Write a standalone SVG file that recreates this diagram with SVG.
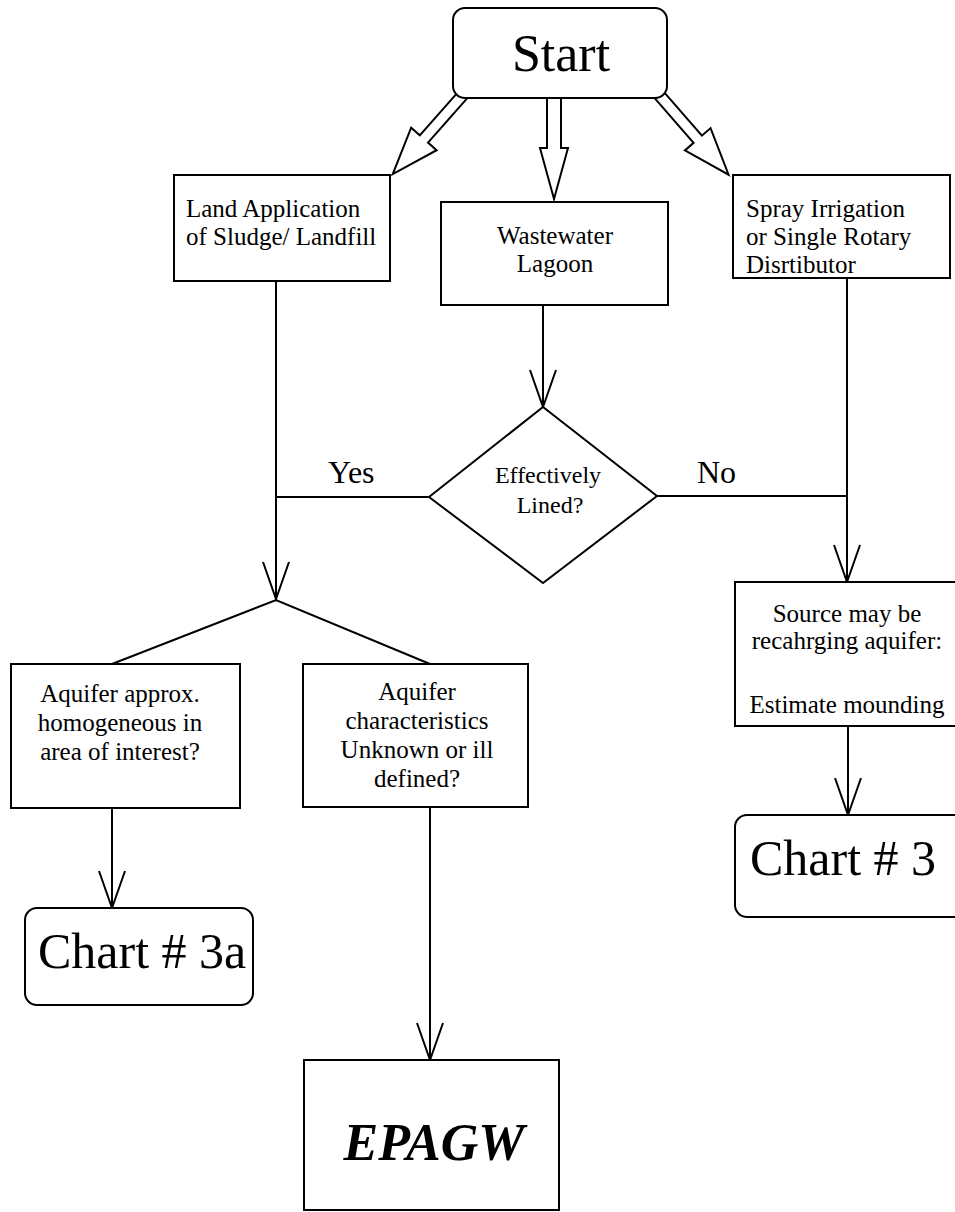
<svg xmlns="http://www.w3.org/2000/svg" width="955" height="1212" viewBox="0 0 955 1212">
  <style>
    .box { fill: #fff; stroke: #000; stroke-width: 2; }
    .conn { fill: none; stroke: #000; stroke-width: 2; }
    .hollow { fill: #fff; stroke: #000; stroke-width: 2; stroke-linejoin: miter; }
    .t { font-family: "Liberation Serif", "Times New Roman", serif; font-size: 25px; fill: #000; }
    .c { text-anchor: middle; }
    .big { font-size: 50px; }
    .lbl { font-size: 32px; }
    .dec { font-size: 24px; }
    .title { font-size: 52px; }
    .prog { font-size: 52px; font-weight: bold; font-style: italic; }
  </style>
  <defs>
    <!-- open V arrowhead used on all thin connectors -->
    <marker id="vee" markerUnits="userSpaceOnUse" viewBox="-40 -16 44 32" markerWidth="44" markerHeight="32" refX="0" refY="0" orient="auto" overflow="visible">
      <path d="M-37,-13 L0,0 L-37,13" fill="none" stroke="#000" stroke-width="2"/>
    </marker>
    <!-- hollow block arrow pointing down, origin at shaft top -->
    <polygon id="blockDiag" points="-5.5,-15 -5.5,56 -17,56 0,103 17,56 5.5,56 5.5,-15"/>
  </defs>

  <g id="connectors">
    <!-- block arrows out of Start -->
    <use href="#blockDiag" class="hollow" transform="translate(461,97) rotate(41.5)"/>
    <polygon class="hollow" points="547,90 547,148 540,148 554,199 568,148 561,148 561,90"/>
    <use href="#blockDiag" class="hollow" transform="translate(661,97) rotate(-41)"/>

    <!-- land application down to split -->
    <path class="conn" d="M276,281 V599" marker-end="url(#vee)"/>
    <path class="conn" d="M112,664 L276,600 L430,664"/>
    <!-- Yes / No branches of the lining test -->
    <path class="conn" d="M276,497 H429"/>
    <path class="conn" d="M657,496 H847"/>
    <!-- lagoon to decision -->
    <path class="conn" d="M543,305 V407" marker-end="url(#vee)"/>
    <!-- spray irrigation to mounding -->
    <path class="conn" d="M847,278 V582" marker-end="url(#vee)"/>
    <path class="conn" d="M848,726 V815" marker-end="url(#vee)"/>
    <!-- aquifer cases -->
    <path class="conn" d="M112,808 V908" marker-end="url(#vee)"/>
    <path class="conn" d="M430,807 V1060" marker-end="url(#vee)"/>

    <text class="t lbl" x="328" y="483">Yes</text>
    <text class="t lbl" x="697" y="483">No</text>
  </g>

  <g id="start">
    <rect class="box" x="453" y="8" width="214" height="90" rx="12"/>
    <text class="t c title" x="561" y="71">Start</text>
  </g>

  <g id="land">
    <rect class="box" x="174" y="175" width="216" height="106"/>
    <text class="t" x="186" y="217">Land Application</text>
    <text class="t" x="186" y="245">of Sludge/ Landfill</text>
  </g>

  <g id="lagoon">
    <rect class="box" x="441" y="202" width="227" height="103"/>
    <text class="t c" x="555" y="244">Wastewater</text>
    <text class="t c" x="555" y="272">Lagoon</text>
  </g>

  <g id="spray">
    <rect class="box" x="733" y="175" width="217" height="103"/>
    <text class="t" x="746" y="217">Spray Irrigation</text>
    <text class="t" x="746" y="245">or Single Rotary</text>
    <text class="t" x="746" y="273">Disrtibutor</text>
  </g>

  <g id="lined">
    <polygon class="box" points="429,497 543,407 657,496 543,583"/>
    <text class="t c dec" x="548" y="483">Effectively</text>
    <text class="t c dec" x="550" y="513">Lined?</text>
  </g>

  <g id="homogeneous">
    <rect class="box" x="11" y="664" width="229" height="144"/>
    <text class="t c" x="120" y="702">Aquifer approx.</text>
    <text class="t c" x="120" y="731">homogeneous in</text>
    <text class="t c" x="120" y="760">area of interest?</text>
  </g>

  <g id="unknown">
    <rect class="box" x="303" y="664" width="225" height="143"/>
    <text class="t c" x="417" y="700">Aquifer</text>
    <text class="t c" x="417" y="729">characteristics</text>
    <text class="t c" x="417" y="758">Unknown or ill</text>
    <text class="t c" x="417" y="787">defined?</text>
  </g>

  <g id="mounding">
    <rect class="box" x="735" y="582" width="240" height="144"/>
    <text class="t c" x="847" y="622">Source may be</text>
    <text class="t c" x="847" y="649">recahrging aquifer:</text>
    <text class="t c" x="847" y="713">Estimate mounding</text>
  </g>

  <g id="chart3">
    <rect class="box" x="735" y="815" width="240" height="102" rx="12"/>
    <text class="t big" x="750" y="875">Chart # 3</text>
  </g>

  <g id="chart3a">
    <rect class="box" x="25" y="908" width="228" height="97" rx="12"/>
    <text class="t big" x="38" y="968">Chart # 3a</text>
  </g>

  <g id="epagw">
    <rect class="box" x="304" y="1060" width="255" height="150"/>
    <text class="t c prog" x="434" y="1160">EPAGW</text>
  </g>
</svg>
